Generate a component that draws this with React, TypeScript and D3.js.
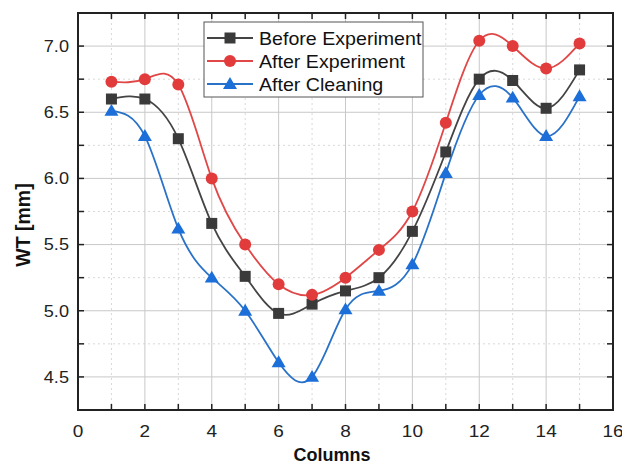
import React from "react";
import * as d3 from "d3";

const columns = [1, 2, 3, 4, 5, 6, 7, 8, 9, 10, 11, 12, 13, 14, 15];
const beforeExperiment = [6.6, 6.6, 6.3, 5.66, 5.26, 4.98, 5.05, 5.15, 5.25, 5.6, 6.2, 6.75, 6.74, 6.53, 6.82];
const afterExperiment = [6.73, 6.75, 6.71, 6.0, 5.5, 5.2, 5.12, 5.25, 5.46, 5.75, 6.42, 7.04, 7.0, 6.83, 7.02];
const afterCleaning = [6.51, 6.32, 5.62, 5.25, 5.0, 4.61, 4.5, 5.01, 5.15, 5.35, 6.04, 6.63, 6.61, 6.32, 6.62];
const xTicks = [0, 2, 4, 6, 8, 10, 12, 14, 16];
const yTicks = [4.5, 5.0, 5.5, 6.0, 6.5, 7.0];
const seriesNames = ["Before Experiment", "After Experiment", "After Cleaning"];

const W = 622, H = 466;
const L = 78, R = 613, T = 13, B = 410;

export default function App() {
  const x = d3.scaleLinear().domain([0, 16]).range([L, R]);
  const y = d3.scaleLinear().domain([4.25, 7.25]).range([B, T]);
  const line = d3.line<number>().x((_, i) => x(columns[i])).y(d => y(d)).curve(d3.curveNatural);
  const series = [
    { name: seriesNames[0], data: beforeExperiment, color: "#3a3a3a", marker: "square" },
    { name: seriesNames[1], data: afterExperiment, color: "#e23b3b", marker: "circle" },
    { name: seriesNames[2], data: afterCleaning, color: "#1c6fd8", marker: "triangle" },
  ];
  const lineColor = ["#444", "#e04848", "#2a72c8"];
  const minorX = d3.range(1, 16, 2);
  const minorY = d3.range(4.75, 7.25, 0.5);
  const allXTicks = d3.range(1, 16, 1);
  const allYTicks = d3.range(4.5, 7.01, 0.25);
  const marker = (kind: string, cx: number, cy: number, color: string, key: any) => {
    if (kind === "square") return <rect key={key} x={cx - 5.5} y={cy - 5.5} width={11} height={11} fill={color} />;
    if (kind === "circle") return <circle key={key} cx={cx} cy={cy} r={6} fill={color} />;
    const s = 7;
    return <path key={key} d={`M${cx},${cy - s}L${cx + s},${cy + s * 0.7}L${cx - s},${cy + s * 0.7}Z`} fill={color} />;
  };
  const font = "Liberation Sans, Arial, sans-serif";
  return (
    <svg width={W} height={H} style={{ position: "absolute", left: 0, top: 0 }} fontFamily={font}>
      <rect x={0} y={0} width={W} height={H} fill="#fff" />
      {minorX.map(v => <line key={"mx" + v} x1={x(v)} x2={x(v)} y1={T} y2={B} stroke="#d8d8d8" strokeDasharray="2,3" />)}
      {minorY.map(v => <line key={"my" + v} x1={L} x2={R} y1={y(v)} y2={y(v)} stroke="#d8d8d8" strokeDasharray="2,3" />)}
      {xTicks.slice(1, -1).map(v => <line key={"gx" + v} x1={x(v)} x2={x(v)} y1={T} y2={B} stroke="#c8c8c8" />)}
      {yTicks.map(v => <line key={"gy" + v} x1={L} x2={R} y1={y(v)} y2={y(v)} stroke="#c8c8c8" />)}
      {allXTicks.map(v => (
        <g key={"tx" + v}>
          <line x1={x(v)} x2={x(v)} y1={B} y2={B - 6} stroke="#222" strokeWidth={1.5} />
          <line x1={x(v)} x2={x(v)} y1={T} y2={T + 6} stroke="#222" strokeWidth={1.5} />
        </g>
      ))}
      {allYTicks.map(v => (
        <g key={"ty" + v}>
          <line x1={L} x2={L + 6} y1={y(v)} y2={y(v)} stroke="#222" strokeWidth={1.5} />
          <line x1={R} x2={R - 6} y1={y(v)} y2={y(v)} stroke="#222" strokeWidth={1.5} />
        </g>
      ))}
      <rect x={L} y={T} width={R - L} height={B - T} fill="none" stroke="#222" strokeWidth={2} />
      {series.map((s, i) => (
        <g key={s.name}>
          <path d={line(s.data) || ""} fill="none" stroke={lineColor[i]} strokeWidth={1.8} />
          {s.data.map((v, j) => marker(s.marker, x(columns[j]), y(v), s.color, j))}
        </g>
      ))}
      {xTicks.map(v => (
        <text key={"lx" + v} transform={`translate(${x(v)},437) scale(1.15,1)`} textAnchor="middle" fontSize={16.5} fill="#222">{v}</text>
      ))}
      {yTicks.map(v => (
        <text key={"ly" + v} transform={`translate(69,${y(v) + 5.8}) scale(1.12,1)`} textAnchor="end" fontSize={16.2} fill="#222">{v.toFixed(1)}</text>
      ))}
      <text x={332} y={461} textAnchor="middle" fontSize={18} fontWeight="bold" fill="#111">Columns</text>
      <text transform={`translate(30,225) rotate(-90)`} textAnchor="middle" fontSize={19.5} fontWeight="bold" fill="#111">WT [mm]</text>
      <rect x={204} y={22} width={219} height={75} fill="#fff" stroke="#555" strokeWidth={1} />
      {series.map((s, i) => {
        const ly = 38 + i * 23;
        return (
          <g key={"lg" + i}>
            <line x1={207} x2={253} y1={ly} y2={ly} stroke={lineColor[i]} strokeWidth={1.8} />
            {marker(s.marker, 230, ly, s.color, "m")}
            <text transform={`translate(259,${ly + 6.5}) scale(1.09,1)`} fontSize={18} fill="#111">{s.name}</text>
          </g>
        );
      })}
    </svg>
  );
}
